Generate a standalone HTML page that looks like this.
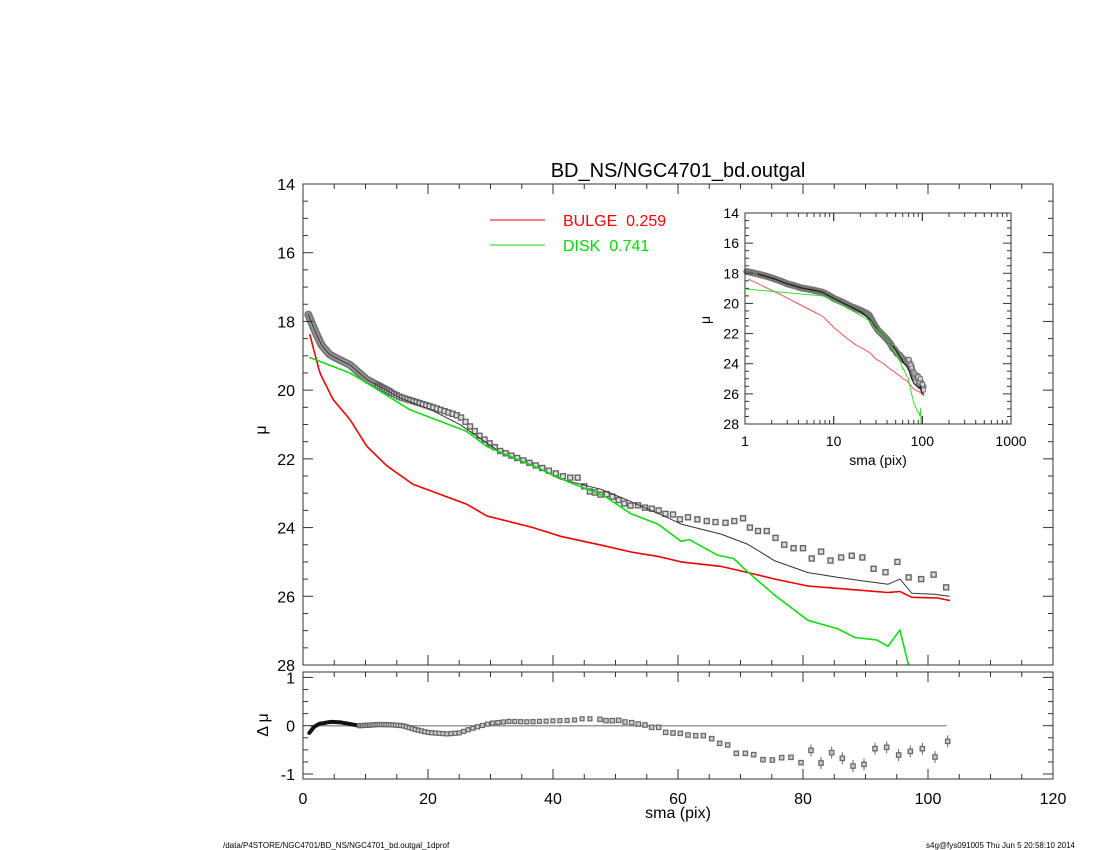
<!DOCTYPE html>
<html><head><meta charset="utf-8"><style>
html,body{margin:0;padding:0;background:#fff;}
svg{display:block;font-family:"Liberation Sans",sans-serif;}
</style></head><body>
<svg id="s" width="1100" height="850" xmlns="http://www.w3.org/2000/svg">
<rect width="1100" height="850" fill="#fff"/>
<text x="678" y="177" font-size="20" text-anchor="middle">BD_NS/NGC4701_bd.outgal</text>
<line x1="490" y1="220" x2="545" y2="220" stroke="#f00" stroke-width="1"/>
<text x="563" y="226" font-size="16" fill="#f00" xml:space="preserve">BULGE  0.259</text>
<line x1="490" y1="245" x2="545" y2="245" stroke="#0d0" stroke-width="1"/>
<text x="563" y="251" font-size="16" fill="#0d0" xml:space="preserve">DISK  0.741</text>
<text x="266" y="430" font-size="16" text-anchor="middle" transform="rotate(-90 266 430)">μ</text>
<text x="268" y="725" font-size="16" text-anchor="middle" transform="rotate(-90 268 725)">Δ μ</text>
<text x="678" y="818" font-size="16" text-anchor="middle">sma (pix)</text>
<text x="878" y="465" font-size="14" text-anchor="middle">sma (pix)</text>
<text x="710" y="320" font-size="14" text-anchor="middle" transform="rotate(-90 710 320)">μ</text>
<text x="223" y="848" font-size="8">/data/P4STORE/NGC4701/BD_NS/NGC4701_bd.outgal_1dprof</text>
<text x="1075" y="848" font-size="8" text-anchor="end">s4g@fys091005  Thu Jun  5 20:58:10 2014</text>
<g id="g"></g>
</svg>
<script>
var NS="http://www.w3.org/2000/svg",G=document.getElementById('g');
function el(t,a,txt){var e=document.createElementNS(NS,t);for(var k in a)e.setAttribute(k,a[k]);if(txt!=null)e.textContent=txt;G.appendChild(e);return e;}
function interp(d,x){if(x<=d[0][0])return d[0][1];for(var i=1;i<d.length;i++){if(x<=d[i][0]){var a=d[i-1],b=d[i];var t=(x-a[0])/(b[0]-a[0]);return a[1]+(b[1]-a[1])*t;}}return d[d.length-1][1];}
function smooth(d,step){var o=[];for(var s=d[0][0];s<=d[d.length-1][0];s+=step)o.push([s,interp(d,s)]);for(var k=0;k<3;k++){for(var i=1;i<o.length-1;i++)o[i]=[o[i][0],(o[i-1][1]+2*o[i][1]+o[i+1][1])/4];}return o;}
var obs=[[0.85,17.8],[1.4,18.05],[2.2,18.39],[3,18.7],[4.3,18.97],[6,19.13],[7.5,19.26],[10.2,19.69],[15.5,20.2],[20.8,20.5],[25.1,20.76],[28.3,21.34],[31.5,21.77],[36.8,22.16],[42.2,22.55],[45,22.8],[45.9,22.95],[46.7,22.98],[47.6,23.04],[48.6,23.03],[49.5,23.1],[50.5,23.2],[51.4,23.3],[52.4,23.36],[53.6,23.35],[54.7,23.42],[55.8,23.45],[56.9,23.5],[58,23.6],[59.2,23.62],[60.3,23.76],[61.6,23.7],[63.1,23.76],[64.6,23.81],[66,23.84],[67.6,23.86],[69,23.81],[70.4,23.73],[71.5,24.0],[72.8,24.1],[74.2,24.1],[75.6,24.3],[77,24.5],[78.5,24.6],[80,24.6],[81.4,24.9],[82.9,24.7],[84.4,24.96],[86.1,24.87],[87.8,24.82],[89.5,24.87],[91.3,25.2],[93.2,25.3],[95.1,25.0],[96.9,25.45],[98.9,25.5],[100.9,25.37],[102.9,25.74]];
var lateObs=obs.filter(function(p){return p[0]>=45;});
var model=[[0.85,17.8],[1.4,18.05],[2.2,18.39],[3,18.7],[4.3,18.97],[6,19.13],[7.5,19.26],[10.2,19.69],[15.5,20.22],[20.8,20.6],[25.1,21.0],[28.3,21.4],[31.5,21.8],[36.8,22.2],[41.3,22.6],[47.7,22.89],[51.9,23.2],[58.3,23.71],[60.5,23.9],[66.9,24.19],[71.2,24.49],[75.5,24.97],[80.8,25.31],[85.6,25.45],[89.4,25.55],[93.6,25.65],[95.5,25.5],[97.4,25.91],[101,25.94],[103.4,26.0]];
var red=[[1.1,18.39],[2.7,19.5],[4.8,20.27],[7.5,20.85],[10.2,21.63],[13.4,22.2],[17.6,22.74],[21.9,23.03],[26.2,23.32],[29.4,23.66],[36.8,24.0],[41.3,24.26],[48.2,24.53],[52.5,24.71],[56.8,24.84],[60.5,25.0],[66.9,25.13],[71.2,25.31],[75.5,25.5],[80.8,25.7],[88.3,25.81],[93.6,25.89],[95.5,25.86],[97.4,26.03],[101.5,26.05],[103.4,26.12]];
var green=[[1.1,19.05],[7.5,19.5],[10.2,19.79],[17.1,20.57],[26.2,21.2],[29.4,21.64],[36.8,22.2],[42.7,22.69],[48.2,23.08],[52.5,23.6],[56.8,23.9],[60.5,24.4],[61.8,24.35],[66.3,24.8],[68.9,24.9],[71.2,25.3],[75.5,25.97],[80.8,26.7],[85.6,26.95],[88.3,27.2],[91.8,27.27],[93.6,27.46],[95.5,26.98],[97.3,28.3]];
var L=303,R=1053,T=184,B=665;
function X(v){return L+6.25*v;} function Y(m){return T+(m-14)*(B-T)/14;}
function path(d,fx,fy,col,w,extra){var s='';d.forEach(function(p,i){s+=(i?'L':'M')+fx(p[0]).toFixed(1)+' '+fy(p[1]).toFixed(1);});var a={d:s,fill:'none',stroke:col,'stroke-width':w,'stroke-linejoin':'round','stroke-linecap':'round'};for(var k in extra)a[k]=extra[k];return el('path',a);}
var cp=el('clipPath',{id:'cm'});var r=document.createElementNS(NS,'rect');r.setAttribute('x',L);r.setAttribute('y',T);r.setAttribute('width',R-L);r.setAttribute('height',B-T);cp.appendChild(r);
var obsS=smooth(obs.filter(function(p){return p[0]<=44;}),0.1);
var modS=smooth(model.filter(function(p){return p[0]<=42;}),0.1);
var redS=smooth(red.filter(function(p){return p[0]<=42;}),0.1);
var grS=smooth(green.filter(function(p){return p[0]<=43;}),0.1);
path(obsS.filter(function(p){return p[0]<=14;}),X,Y,'#777',8);
path(obsS.filter(function(p){return p[0]<=14;}),X,Y,'#999',4);
var pts=[];for(var s=12;s<45;s*=1.028)pts.push([s,interp(obsS,s)]);
pts=pts.concat(lateObs);
pts.forEach(function(p){el('rect',{x:X(p[0])-2.5,y:Y(p[1])-2.5,width:5,height:5,fill:'#ddd',stroke:'#666','stroke-width':1.4});});
path(modS.concat(model.filter(function(p){return p[0]>42;})),X,Y,'#333',1);
path(redS.concat(red.filter(function(p){return p[0]>42;})),X,Y,'#e00',1.6);
path(grS.concat(green.filter(function(p){return p[0]>43;})),X,Y,'#1d1',1.6,{'clip-path':'url(#cm)'});
function box(l,t,r,b){el('rect',{x:l,y:t,width:r-l,height:b-t,fill:'none',stroke:'#333','stroke-width':1});}
box(L,T,R,B);
function xticks(t,b,lbl){for(var v=0;v<=120;v+=5){var x=X(v),big=v%20==0,len=big?10:5;el('line',{x1:x,y1:b,x2:x,y2:b-len,stroke:'#333'});el('line',{x1:x,y1:t,x2:x,y2:t+len,stroke:'#333'});if(lbl&&big)el('text',{x:x,y:b+25,'font-size':16,'text-anchor':'middle'},v);}}
xticks(T,B,false);
for(var m=14;m<=28.001;m+=0.5){var y=Y(m),big=Math.abs(m-Math.round(m/2)*2)<1e-6,len=big?10:5;el('line',{x1:L,y1:y,x2:L+len,y2:y,stroke:'#333'});el('line',{x1:R,y1:y,x2:R-len,y2:y,stroke:'#333'});if(big)el('text',{x:L-8,y:y+6,'font-size':16,'text-anchor':'end'},m);}
var RT=672,RB=779;function RY(v){return 725.7-v*48.3;}
var rdef=[[1,-0.15],[1.8,-0.02],[2.6,0.04],[4.5,0.08],[6,0.07],[9,0],[10.5,0.01],[12,0.025],[14,0.02],[16,0],[18,-0.08],[20,-0.14],[23,-0.17],[25,-0.15],[26.5,-0.08],[28,-0.02],[30,0.05],[33,0.09],[36,0.08],[40,0.1],[43,0.11],[45,0.15],[47.5,0.13]];
var res=[];for(var s=1;s<=47;s*=1.012)res.push([s,interp(rdef,s)]);
res=smooth(rdef,0.1);
el('line',{x1:X(1),y1:RY(0),x2:X(103),y2:RY(0),stroke:'#999','stroke-width':1.5});
path(res.filter(function(p){return p[0]<10;}),X,RY,'#111',4);
var rp=[];for(var s=9;s<47;s*=1.028)rp.push([s,interp(res,s)]);
rp.forEach(function(p){el('rect',{x:X(p[0])-2,y:RY(p[1])-2,width:4,height:4,fill:'#ccc',stroke:'#666','stroke-width':1.2});});
var rz=[[0,178],[18,182],[37,182],[56,181],[75,186],[95,188],[115,192],[135,195],[155,202],[176,202],[197,217],[219,219],[241,220],[264,225],[287,227],[310,227],[335,236],[359,250],[383,255],[409,280],[436,280],[461,284],[489,299],[517,300],[545,293],[573,292],[603,308],[633,271],[663,309],[695,278],[727,295],[759,318],[792,313],[825,266],[860,262],[896,285],[931,274],[967,266],[1005,291],[1043,244]];
rz.forEach(function(p,i){var px=600+p[0]/3,py=660+p[1]/3;if(i>26)el('line',{x1:px,y1:py-6,x2:px,y2:py+6,stroke:'#666'});el('rect',{x:px-2.2,y:py-2.2,width:4.4,height:4.4,fill:'#ccc',stroke:'#666','stroke-width':1.2});});
box(L,RT,R,RB);
xticks(RT,RB,true);
for(var v=-1;v<=1.001;v+=0.25){var y=RY(v),big=Math.abs(v-Math.round(v))<1e-6,len=big?10:5;el('line',{x1:L,y1:y,x2:L+len,y2:y,stroke:'#333'});el('line',{x1:R,y1:y,x2:R-len,y2:y,stroke:'#333'});if(big)el('text',{x:L-8,y:y+6,'font-size':16,'text-anchor':'end'},Math.round(v));}
var IL=745,IR=1011,IT=213,IB=424;
function IX(s){return IL+Math.log10(s)*(IR-IL)/3;} function IY(m){return IT+(m-14)*(IB-IT)/14;}
var cp2=el('clipPath',{id:'ci'});var r2=document.createElementNS(NS,'rect');r2.setAttribute('x',IL);r2.setAttribute('y',IT);r2.setAttribute('width',IR-IL);r2.setAttribute('height',IB-IT);cp2.appendChild(r2);
var io=[];for(var s=1.05;s<=103;s*=1.02)io.push([s,interp(obs,s)]);
path(io,IX,IY,'#777',7);
lateObs.forEach(function(p){el('rect',{x:IX(p[0])-2,y:IY(p[1])-2,width:4,height:4,fill:'#ddd',stroke:'#777','stroke-width':1});});
path(model.filter(function(p){return p[0]>=1;}),IX,IY,'#222',1.3);
path(red,IX,IY,'#e55',1);
path([[1.05,19.05]].concat(green.slice(1)).concat([[100,28.3]]),IX,IY,'#3d3',1,{'clip-path':'url(#ci)'});
box(IL,IT,IR,IB);
for(var d=0;d<3;d++)for(var k=1;k<=10;k++){var s=Math.pow(10,d)*k;var x=IX(s),big=k==1||k==10,len=big?8:4;el('line',{x1:x,y1:IB,x2:x,y2:IB-len,stroke:'#333'});el('line',{x1:x,y1:IT,x2:x,y2:IT+len,stroke:'#333'});}
[1,10,100,1000].forEach(function(s){el('text',{x:IX(s),y:IB+22,'font-size':14,'text-anchor':'middle'},s);});
for(var m=14;m<=28.001;m+=0.5){var y=IY(m),big=Math.abs(m-Math.round(m/2)*2)<1e-6,len=big?8:4;el('line',{x1:IL,y1:y,x2:IL+len,y2:y,stroke:'#333'});el('line',{x1:IR,y1:y,x2:IR-len,y2:y,stroke:'#333'});if(big)el('text',{x:IL-6,y:y+5,'font-size':14,'text-anchor':'end'},m);}
</script>
</body></html>
